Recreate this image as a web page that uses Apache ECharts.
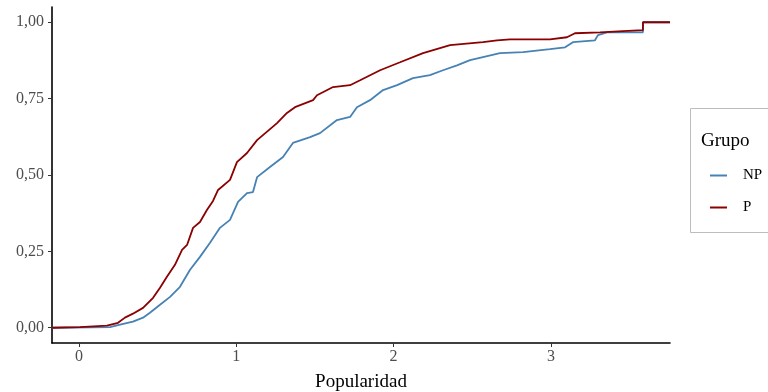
<!DOCTYPE html>
<html>
<head>
<meta charset="utf-8">
<script src="https://cdn.jsdelivr.net/npm/echarts@6/dist/echarts.min.js"></script>
<style>
html,body{margin:0;padding:0;background:#fff;}
#chart{width:768px;height:392px;}
</style>
</head>
<body>
<div id="chart"></div>
<script>
// ECDF: x = Popularidad, y = cumulative proportion
const npX = [-0.172, 0.197, 0.261, 0.343, 0.407, 0.451, 0.515, 0.579, 0.642, 0.706, 0.769, 0.833, 0.896, 0.960, 1.011, 1.068, 1.106, 1.132, 1.214, 1.297, 1.360, 1.469, 1.532, 1.640, 1.723, 1.767, 1.850, 1.933, 2.022, 2.123, 2.231, 2.314, 2.403, 2.486, 2.568, 2.676, 2.823, 2.994, 3.090, 3.140, 3.280, 3.299, 3.357, 3.585, 3.585, 3.757];
const npY = [0.000, 0.002, 0.010, 0.020, 0.033, 0.049, 0.075, 0.101, 0.134, 0.190, 0.232, 0.278, 0.327, 0.353, 0.412, 0.441, 0.444, 0.493, 0.526, 0.559, 0.605, 0.624, 0.637, 0.680, 0.690, 0.722, 0.745, 0.778, 0.794, 0.817, 0.827, 0.843, 0.859, 0.876, 0.886, 0.899, 0.902, 0.912, 0.918, 0.935, 0.941, 0.958, 0.967, 0.967, 1.000, 1.000];
const pX = [-0.172, 0.006, 0.178, 0.248, 0.292, 0.343, 0.407, 0.471, 0.515, 0.559, 0.610, 0.655, 0.687, 0.725, 0.769, 0.814, 0.852, 0.884, 0.960, 1.004, 1.068, 1.132, 1.259, 1.322, 1.373, 1.488, 1.513, 1.615, 1.723, 1.787, 1.914, 2.041, 2.187, 2.359, 2.568, 2.657, 2.740, 2.994, 3.102, 3.153, 3.312, 3.458, 3.585, 3.585, 3.757];
const pY = [0.000, 0.002, 0.007, 0.016, 0.033, 0.046, 0.065, 0.098, 0.131, 0.167, 0.206, 0.255, 0.271, 0.327, 0.346, 0.386, 0.415, 0.451, 0.484, 0.542, 0.572, 0.614, 0.670, 0.703, 0.722, 0.745, 0.761, 0.788, 0.794, 0.810, 0.843, 0.869, 0.899, 0.925, 0.935, 0.941, 0.944, 0.944, 0.951, 0.964, 0.967, 0.971, 0.974, 1.000, 1.000];

const xTicks = [0, 1, 2, 3];
const yTicks = [0, 0.25, 0.5, 0.75, 1];
const groupNames = ['NP', 'P'];
const xTitle = 'Popularidad';
const legendTitle = 'Grupo';

const zip = (xs, ys) => xs.map((x, i) => [x, ys[i]]);
const serif = '"Liberation Serif", "DejaVu Serif", serif';

const chart = echarts.init(document.getElementById('chart'), null, {renderer: 'canvas'});
chart.setOption({
  animation: false,
  backgroundColor: '#ffffff',
  grid: {left: 52, right: 98, top: 7, bottom: 49, containLabel: false, outerBoundsMode: 'none'},
  xAxis: {
    type: 'value', min: -0.1716, max: 3.757,
    name: xTitle, nameLocation: 'middle', nameGap: 30,
    nameTextStyle: {fontFamily: serif, fontSize: 19, color: '#000'},
    splitLine: {show: false},
    axisLine: {show: true, onZero: false, lineStyle: {color: '#000', width: 1.6}},
    axisTick: {show: true, length: 4, lineStyle: {color: '#333', width: 1}, customValues: xTicks},
    axisLabel: {fontFamily: serif, fontSize: 16, color: '#4d4d4d', margin: 6, customValues: xTicks,
      formatter: v => String(v)}
  },
  yAxis: {
    type: 'value', min: -0.05, max: 1.05,
    splitLine: {show: false},
    axisLine: {show: true, onZero: false, lineStyle: {color: '#000', width: 1.6}},
    axisTick: {show: true, length: 4, lineStyle: {color: '#333', width: 1}, customValues: yTicks},
    axisLabel: {fontFamily: serif, fontSize: 16, color: '#4d4d4d', margin: 8, customValues: yTicks,
      formatter: v => v.toFixed(2).replace('.', ',')}
  },
  legend: {
    orient: 'vertical', left: 705, top: 163,
    itemWidth: 17, itemHeight: 2, itemGap: 17,
    icon: 'rect',
    textStyle: {fontFamily: serif, fontSize: 15, color: '#000', padding: [0, 0, 0, 11]},
    data: groupNames
  },
  graphic: [
    {type: 'rect', shape: {x: 690.5, y: 108.5, width: 90, height: 124}, style: {fill: '#fff', stroke: '#bdbdbd', lineWidth: 1}, z: -1},
    {type: 'text', left: 701, top: 132, style: {text: legendTitle, font: '19px "Liberation Serif", serif', fill: '#000'}}
  ],
  series: [
    {name: groupNames[0], type: 'line', data: zip(npX, npY), showSymbol: false, symbol: 'none',
      lineStyle: {color: '#4682b4', width: 1.8}, itemStyle: {color: '#4682b4'}},
    {name: groupNames[1], type: 'line', data: zip(pX, pY), showSymbol: false, symbol: 'none',
      lineStyle: {color: '#8b0000', width: 1.8}, itemStyle: {color: '#8b0000'}}
  ]
});
</script>
</body>
</html>
